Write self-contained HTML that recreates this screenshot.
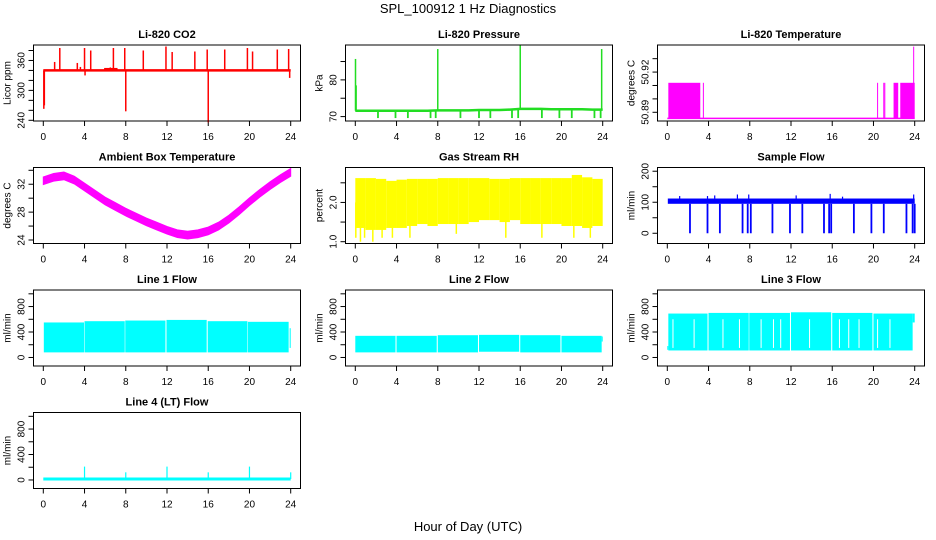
<!DOCTYPE html>
<html><head><meta charset="utf-8"><style>
body{margin:0;background:#fff;}
svg{display:block;font-family:"Liberation Sans",sans-serif;}
</style></head><body>
<svg id="chart" width="936" height="540" viewBox="0 0 936 540" xmlns="http://www.w3.org/2000/svg">
<rect x="0" y="0" width="936" height="540" fill="#fff"/>
<text x="468" y="13" text-anchor="middle" font-size="13">SPL_100912 1 Hz Diagnostics</text>
<text x="468" y="531" text-anchor="middle" font-size="13">Hour of Day (UTC)</text>
<g id="panels"></g>
</svg>
<script>
// ---- data arrays ----
const xTicks = [0,4,8,12,16,20,24];
const panelTitles = ["Li-820 CO2","Li-820 Pressure","Li-820 Temperature","Ambient Box Temperature","Gas Stream RH","Sample Flow","Line 1 Flow","Line 2 Flow","Line 3 Flow","Line 4 (LT) Flow"];
const panelYLabels = ["Licor ppm","kPa","degrees C","degrees C","percent","ml/min","ml/min","ml/min","ml/min","ml/min"];
const co2Base = 340;
const co2SpikeHours = [0.05,0.1,1.1,1.6,3.3,3.6,4.0,4.05,4.6,6.5,6.8,7.9,8.0,9.7,11.9,12.5,14.7,15.9,16.0,17.6,19.8,20.3,22.7,23.8,23.9];
const co2SpikeValues = [263,270,357,385,355,347,385,330,380,346,385,385,258,380,388,377,378,382,236,382,385,378,382,383,325];
const co2BumpHours = [[5.9,7.2]];
const co2BumpValues = [345];
const presBase = [71.6,71.6,71.6,71.6,71.6,71.6,71.6,71.6,71.7,71.7,71.7,71.7,71.8,71.8,71.8,71.9,72.1,72.1,72.1,72.0,72.0,72.0,72.0,71.9,71.9];
const presSpikeHours = [0.02,0.08,8.0,16.0,23.9];
const presSpikeValues = [85.7,78.5,88.4,89.6,88.4];
const presDipHours = [2.2,3.9,5.1,7.3,7.8,10.2,12.0,13.1,15.2,15.8,18.1,19.8,21.0,23.2,23.8];
const presDipValue = 69.6;
const tempBase = 50.8855;
const tempHigh = 50.912;
const tempBlocks = [[0.1,3.2],[21.95,22.4],[22.6,24.0]];
const tempLines = [3.5,20.4,21.0,21.1];
const tempSpikeHours = [23.9];
const tempSpikeValues = [50.939];
const ambientHours = [0,1,2,3,4,5,6,7,8,9,10,11,12,13,14,15,16,17,18,19,20,21,22,23,24];
const ambientValues = [32.5,33.0,33.2,32.6,31.6,30.6,29.6,28.8,28.0,27.3,26.6,26.0,25.4,24.9,24.7,24.9,25.3,26.0,27.0,28.2,29.5,30.7,31.8,32.8,33.7];
const ambientSpread = 0.55;
const rhHigh = [2.62,2.62,2.6,2.55,2.58,2.6,2.6,2.6,2.62,2.62,2.62,2.62,2.62,2.6,2.6,2.62,2.62,2.62,2.62,2.62,2.62,2.7,2.64,2.6];
const rhLow = [1.35,1.3,1.3,1.35,1.35,1.4,1.45,1.4,1.45,1.45,1.45,1.5,1.55,1.55,1.5,1.55,1.45,1.45,1.45,1.45,1.4,1.4,1.35,1.4];
const rhDipHours = [0.05,0.5,0.9,1.7,2.6,3.6,5.3,9.8,14.6,18.1,21.2,22.8];
const rhDipValues = [1.1,1.0,1.1,1.0,1.1,1.1,1.1,1.2,1.1,1.1,1.1,1.1];
const sampleLow = 95, sampleHigh = 112;
const sampleSpikeHours = [1.2,3.9,4.6,6.8,7.9,12.5,15.8,17.0,23.9];
const sampleSpikeValues = [120,120,122,125,125,122,127,118,125];
const sampleDipHours = [2.2,3.9,5.1,7.3,7.8,8.1,10.2,11.9,13.1,15.2,15.7,15.9,18.1,19.8,21.0,23.2,23.8,24.0];
const line1Blocks = [[0.05,3.95,80,550],[4.0,7.9,80,570],[7.95,11.85,80,580],[11.95,15.85,80,590],[15.95,19.8,80,570],[19.85,23.8,80,560],[23.9,24.0,150,460]];
const line2Blocks = [[0.0,3.9,80,340],[4.0,7.9,80,340],[8.0,11.9,80,350],[12.0,15.9,90,355],[16.0,19.9,80,350],[20.0,23.9,80,340],[23.9,24.0,250,330]];
const line3Blocks = [[0.0,0.1,120,180],[0.1,3.9,110,690],[4.0,7.9,110,700],[7.95,11.9,110,700],[12.0,15.9,110,710],[16.0,19.9,110,700],[20.0,23.8,110,690],[23.8,24.0,550,690]];
const line3GapHours = [0.55,2.6,5.4,7.0,9.1,10.3,11.0,13.8,16.7,17.6,18.6,20.4,21.6];
const line3GapTop = 600;
const line4Base = 15;
const line4SpikeHours = [4,8,12,16,20,24];
const line4SpikeValues = [210,120,210,120,210,120];

// ---- axis config ----
const yLims = [[238.6,391],[68.8,89.5],[50.8835,50.9402],[23.5,34.4],[0.954,2.89],[-33,212],[-134,1060],[-134,1060],[-134,1060],[-134,1060]];
const yTickVals = [[240,260,280,300,320,340,360,380],[70,75,80,85],[50.89,50.90,50.91,50.92,50.93],[24,26,28,30,32,34],[1.0,1.5,2.0,2.5],[0,50,100,150,200],[0,200,400,600,800,1000],[0,200,400,600,800,1000],[0,200,400,600,800,1000],[0,200,400,600,800,1000]];
const yTickLabels = [["240","","","300","","","360",""],["70","","80",""],["50.89","","","50.92",""],["24","","28","","32",""],["1.0","","2.0",""],["0","","100","","200"],["0","","400","","800",""],["0","","400","","800",""],["0","","400","","800",""],["0","","400","","800",""]];

const NS="http://www.w3.org/2000/svg";
const root=document.getElementById('panels');
function mk(tag,attrs,parent){const e=document.createElementNS(NS,tag);for(const k in attrs)e.setAttribute(k,attrs[k]);(parent||root).appendChild(e);return e;}

function panel(i){
  const c=i%3, r=Math.floor(i/3);
  const bx=33.5+312*c, by=45+122.5*r, bw=267, bh=76;
  const g=mk('g',{});
  
  
  const X=h=>43.3+312*c+(h/24)*247.4;
  const lim=yLims[i];
  const Y=v=>by+bh-(v-lim[0])/(lim[1]-lim[0])*bh;
  const t=mk('text',{x:bx+bw/2,y:by-7,'text-anchor':'middle','font-size':'11','font-weight':'bold'},g);
  t.textContent=panelTitles[i];
  
  
  const yl=mk('text',{x:0,y:0,'text-anchor':'middle','font-size':'10',transform:`translate(${bx-23},${by+bh/2}) rotate(-90)`},g);
  yl.textContent=panelYLabels[i];
  
  
  mk('line',{x1:X(0),x2:X(24),y1:by+bh,y2:by+bh,stroke:'#000'},g);
  xTicks.forEach(h=>{
    mk('line',{x1:X(h),x2:X(h),y1:by+bh,y2:by+bh+5,stroke:'#000'},g);
    const tl=mk('text',{x:X(h),y:by+bh+19,'text-anchor':'middle','font-size':'10'},g);
    tl.textContent=h;
    
    
  });
  const tv=yTickVals[i];
  mk('line',{x1:bx,x2:bx,y1:Y(tv[0]),y2:Y(tv[tv.length-1]),stroke:'#000'},g);
  tv.forEach((v,k)=>{
    mk('line',{x1:bx-5,x2:bx,y1:Y(v),y2:Y(v),stroke:'#000'},g);
    if(yTickLabels[i][k]){
      const tl=mk('text',{x:0,y:0,'text-anchor':'middle','font-size':'10',transform:`translate(${bx-9},${Y(v)}) rotate(-90)`},g);
      tl.textContent=yTickLabels[i][k];
      
      
    }
  });
  const plot=mk('g',{},g);
  
  
  drawSeries(i,plot,X,Y);
  mk('rect',{x:bx,y:by,width:bw,height:bh,fill:'none',stroke:'#000','stroke-width':1},g);
}
function vline(p,x,y1,y2,col,w){mk('line',{x1:x,x2:x,y1:y1,y2:y2,stroke:col,'stroke-width':w||1.2},p);}
function block(p,X,Y,b,col){mk('rect',{x:X(b[0]),y:Y(b[3]),width:Math.max(1,X(b[1])-X(b[0])),height:Y(b[2])-Y(b[3]),fill:col},p);}
function drawSeries(i,p,X,Y){
  if(i===0){const col='#ff0000';
    mk('line',{x1:X(0),x2:X(24),y1:Y(co2Base),y2:Y(co2Base),stroke:col,'stroke-width':2.5},p);
    co2BumpHours.forEach((b,k)=>block(p,X,Y,[b[0],b[1],co2Base,co2BumpValues[k]],col));
    co2SpikeHours.forEach((h,k)=>vline(p,X(h),Y(co2Base),Y(co2SpikeValues[k]),col,1.5));}
  if(i===1){const col='#22dd22';
    let d='';presBase.forEach((v,k)=>{d+=(k?'L':'M')+X(k)+','+Y(v);});
    mk('path',{d:d,fill:'none',stroke:col,'stroke-width':2.5},p);
    presSpikeHours.forEach((h,k)=>vline(p,X(h),Y(presBase[Math.round(h)]),Y(presSpikeValues[k]),col,1.5));
    presDipHours.forEach(h=>vline(p,X(h),Y(presBase[Math.round(h)]),Y(presDipValue),col,1.8));}
  if(i===2){const col='#ff00ff';
    mk('line',{x1:X(0),x2:X(24),y1:Y(tempBase),y2:Y(tempBase),stroke:col,'stroke-width':1.5},p);
    tempBlocks.forEach(b=>block(p,X,Y,[b[0],b[1],tempBase,tempHigh],col));
    tempLines.forEach(h=>vline(p,X(h),Y(tempBase),Y(tempHigh),col,1));
    tempSpikeHours.forEach((h,k)=>vline(p,X(h),Y(tempBase),Y(tempSpikeValues[k]),col,1));}
  if(i===3){const col='#ff00ff';
    let up='',dn='';
    ambientHours.forEach((h,k)=>{up+=(k?'L':'M')+X(h)+','+Y(ambientValues[k]+ambientSpread);});
    for(let k=ambientHours.length-1;k>=0;k--){dn+='L'+X(ambientHours[k])+','+Y(ambientValues[k]-ambientSpread);}
    mk('path',{d:up+dn+'Z',fill:col,stroke:col,'stroke-width':1},p);}
  if(i===4){const col='#ffff00';
    rhHigh.forEach((v,k)=>block(p,X,Y,[k,k+1,rhLow[k],v],col));
    rhDipHours.forEach((h,k)=>vline(p,X(h),Y(2.0),Y(rhDipValues[k]),col,1.5));}
  if(i===5){const col='#0000ff';
    block(p,X,Y,[0.05,24,sampleLow,sampleHigh],col);
    sampleSpikeHours.forEach((h,k)=>vline(p,X(h),Y(sampleHigh),Y(sampleSpikeValues[k]),col,1.2));
    sampleDipHours.forEach(h=>vline(p,X(h),Y(sampleLow),Y(0),col,1.8));}
  if(i===6)line1Blocks.forEach(b=>block(p,X,Y,b,'#00ffff'));
  if(i===7)line2Blocks.forEach(b=>block(p,X,Y,b,'#00ffff'));
  if(i===8){line3Blocks.forEach(b=>block(p,X,Y,b,'#00ffff'));
    line3GapHours.forEach(h=>vline(p,X(h),Y(line3GapTop),Y(150),'#ffffff',1));}
  if(i===9){const col='#00ffff';
    mk('line',{x1:X(0),x2:X(24),y1:Y(line4Base),y2:Y(line4Base),stroke:col,'stroke-width':3},p);
    line4SpikeHours.forEach((h,k)=>vline(p,X(h),Y(line4Base),Y(line4SpikeValues[k]),col,1.2));}
}
for(let i=0;i<10;i++)panel(i);
</script>
</body></html>
